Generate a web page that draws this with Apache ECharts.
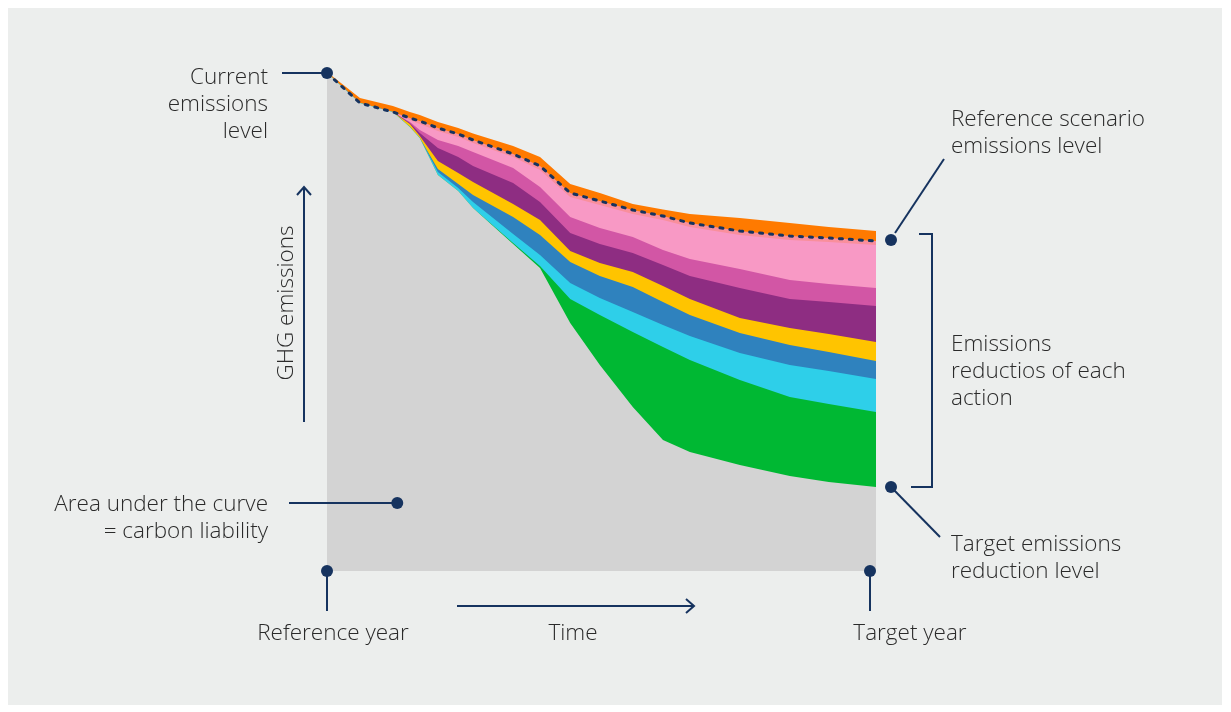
<!DOCTYPE html>
<html>
<head>
<meta charset="utf-8">
<script src="https://cdn.jsdelivr.net/npm/echarts@6.0.0/dist/echarts.min.js"></script>
<style>
  html, body { margin: 0; padding: 0; background: #ffffff; }
  #chart { width: 1231px; height: 712px; }
</style>
</head>
<body>
<div id="chart"></div>
<script>
// Time runs from the reference year (0) to the target year (100).
const timeSteps = [0, 6.0, 12.0, 15.1, 16.9, 20.2, 23.9, 26.6, 33.9, 38.8, 44.3, 49.7, 55.7, 61.2, 66.1, 75.2, 84.3, 91.4, 100];

// Emissions path after all actions (the carbon liability area).
const targetPath = [99.6, 93.6, 91.8, 88.8, 86.6, 79.2, 76.0, 72.6, 65.4, 60.6, 49.6, 41.2, 32.8, 26.2, 23.8, 21.2, 19.0, 17.8, 16.8];

// Reduction delivered by each action, stacked from the target path upwards.
const actionGreen   = [0, 0, 0, 0, 0, 0, 0, 0, 0.2, 0.4, 4.8, 10.0, 15.0, 18.6, 18.4, 17.0, 15.8, 15.6, 15.0];
const actionCyan    = [0, 0, 0, 0, 0, 0.6, 0.6, 1.2, 1.8, 2.2, 3.2, 3.4, 4.0, 4.4, 4.8, 5.4, 6.4, 6.6, 6.6];
const actionBlue    = [0, 0, 0, 0, 0, 0.6, 0.8, 1.4, 3.4, 4.0, 4.2, 4.4, 5.0, 4.6, 4.2, 4.0, 4.0, 3.8, 3.6];
const actionYellow  = [0, 0, 0, 0.6, 0.4, 1.6, 2.2, 2.6, 2.6, 3.0, 2.2, 2.6, 3.0, 3.2, 3.2, 3.0, 3.4, 3.6, 3.8];
const actionPurple  = [0, 0, 0, 0.2, 0.6, 2.6, 3.2, 3.2, 4.2, 3.6, 3.6, 3.8, 3.8, 4.2, 4.6, 6.0, 5.8, 6.4, 7.2];
const actionMagenta = [0, 0, 0, 0.2, 0.6, 1.6, 2.2, 2.8, 3.0, 3.0, 3.2, 3.2, 3.2, 3.0, 3.4, 3.8, 3.8, 3.6, 3.6];
const actionPink    = [0, 0, 0, 0.4, 1.2, 1.8, 1.8, 1.8, 2.2, 3.4, 4.0, 4.6, 4.6, 6.0, 6.4, 6.8, 8.0, 8.4, 8.6];
const actionSalmon  = [0, 0, 0, 0.4, 0.6, 0.6, 0.6, 0.6, 0.6, 0.8, 0.8, 0.8, 0.8, 0.8, 0.8, 0.8, 0.8, 0.8, 0.8];
const actionOrange  = [0.2, 1.0, 1.2, 1.2, 1.2, 1.2, 1.2, 1.3, 1.6, 1.8, 1.8, 1.6, 1.2, 1.3, 1.8, 2.6, 2.6, 2.2, 2.0];

// Reference scenario (business as usual) emissions level.
const referencePath = [99.6, 93.6, 91.8, 90.6, 90.0, 88.6, 87.4, 86.2, 83.4, 81.0, 75.6, 74.0, 72.2, 71.0, 69.6, 68.0, 67.0, 66.6, 66.0];

const NAVY = '#16335f';
const TEXT = '#2a2a2a';
const FONT = '"Open Sans", "Noto Sans", sans-serif';
const FONT_SIZE = 22.5;

const layers = [
  { name: 'Target path', data: targetPath, color: '#d3d3d3' },
  { name: 'Action 1', data: actionGreen, color: '#00b833' },
  { name: 'Action 2', data: actionCyan, color: '#2ecfe9' },
  { name: 'Action 3', data: actionBlue, color: '#2f82be' },
  { name: 'Action 4', data: actionYellow, color: '#ffc400' },
  { name: 'Action 5', data: actionPurple, color: '#8e2d82' },
  { name: 'Action 6', data: actionMagenta, color: '#d256a5' },
  { name: 'Action 7', data: actionPink, color: '#f899c5' },
  { name: 'Action 8', data: actionSalmon, color: '#f98f9c' },
  { name: 'Action 9', data: actionOrange, color: '#ff7a00' }
];

// Running totals: each band is filled from the axis up to its own cumulative top,
// and bands are painted from the top one down so the lower ones sit in front.
const running = timeSteps.map(() => 0);
layers.forEach(l => {
  l.top = l.data.map((v, i) => (running[i] = +(running[i] + v).toFixed(3)));
});

const series = layers.slice().reverse().map(l => ({
  name: l.name,
  type: 'line',
  data: l.top.map((v, i) => [timeSteps[i], v]),
  symbol: 'none',
  z: 2,
  lineStyle: { width: 0 },
  areaStyle: { color: l.color, opacity: 1 },
  itemStyle: { color: l.color },
  emphasis: { disabled: true },
  silent: true
}));

series.push({
  name: 'Reference scenario',
  type: 'line',
  data: referencePath.map((v, i) => [timeSteps[i], v]),
  symbol: 'none',
  z: 5,
  lineStyle: { color: NAVY, width: 3, type: [3, 7], cap: 'round' },
  emphasis: { disabled: true },
  silent: true
});

const chart = echarts.init(document.getElementById('chart'), null, { renderer: 'canvas' });

chart.setOption({
  animation: false,
  backgroundColor: '#ffffff',
  grid: { left: 327, right: 355, top: 71, bottom: 141 },
  xAxis: { type: 'value', min: 0, max: 100, show: false },
  yAxis: { type: 'value', min: 0, max: 100, show: false },
  series: series
});

// Annotation layer
const px = (x, y) => chart.convertToPixel({ gridIndex: 0 }, [x, y]);
const last = timeSteps.length - 1;

const pStart = px(timeSteps[0], referencePath[0]);
const pRefEnd = px(timeSteps[last], referencePath[last]);
const pTargetEnd = px(timeSteps[last], targetPath[last]);
const pRefYear = px(timeSteps[0], 0);
const pTargetYear = px(timeSteps[last], 0);
const pArea = px(12.8, 13.6);

const refDot = [pRefEnd[0] + 15, pRefEnd[1] - 1];
const tgtDot = [pTargetEnd[0] + 15, pTargetEnd[1]];
const tgtYearDot = [pTargetYear[0] - 6, pTargetYear[1]];

const g = [];
g.push({ type: 'rect', z: -10, shape: { x: 8, y: 8, width: 1214, height: 697 }, style: { fill: '#eceeed' }, silent: true });

function line(points) {
  g.push({ type: 'polyline', z: 20, shape: { points }, style: { stroke: NAVY, lineWidth: 2, fill: null }, silent: true });
}
function dot(p) {
  g.push({ type: 'circle', z: 30, shape: { cx: p[0], cy: p[1], r: 6 }, style: { fill: NAVY }, silent: true });
}
function label(lines, x, y0, align) {
  lines.forEach((t, i) => {
    g.push({
      type: 'text', z: 30, silent: true,
      style: { text: t, x: x, y: y0 + 2 + i * 27, align: align, verticalAlign: 'middle',
               fill: TEXT, font: '300 ' + FONT_SIZE + 'px ' + FONT }
    });
  });
}

// Current emissions level
line([[282, pStart[1]], pStart]);
dot(pStart);
label(['Current', 'emissions', 'level'], 268, 76, 'right');

// Reference scenario emissions level
line([[refDot[0] + 4, refDot[1] - 7], [944, 159]]);
dot(refDot);
label(['Reference scenario', 'emissions level'], 951, 118, 'left');

// Bracket around the action reductions
line([[919, refDot[1] - 6], [932, refDot[1] - 6], [932, tgtDot[1]], [911, tgtDot[1]]]);
label(['Emissions', 'reductios of each', 'action'], 951, 343, 'left');

// Target emissions reduction level
line([tgtDot, [940, 537]]);
dot(tgtDot);
label(['Target emissions', 'reduction level'], 951, 543, 'left');

// Carbon liability
line([[289, pArea[1]], pArea]);
dot(pArea);
label(['Area under the curve', '= carbon liability'], 268, 503, 'right');

// Reference year / target year
line([pRefYear, [pRefYear[0], 611]]);
dot(pRefYear);
line([tgtYearDot, [tgtYearDot[0], 611]]);
dot(tgtYearDot);
label(['Reference year'], 333, 632, 'center');
label(['Target year'], 910, 632, 'center');

// Time arrow
line([[457, 606], [694, 606]]);
line([[686, 599], [694, 606], [686, 613]]);
label(['Time'], 573, 632, 'center');

// GHG emissions arrow
line([[304, 422], [304, 187]]);
line([[297, 195], [304, 187], [311, 195]]);
g.push({
  type: 'text', z: 30, silent: true,
  x: 287, y: 303, rotation: Math.PI / 2,
  style: { text: 'GHG emissions', x: 0, y: 0, align: 'center', verticalAlign: 'middle',
           fill: TEXT, font: '300 ' + FONT_SIZE + 'px ' + FONT }
});

chart.setOption({ graphic: { elements: g } });
</script>
</body>
</html>
